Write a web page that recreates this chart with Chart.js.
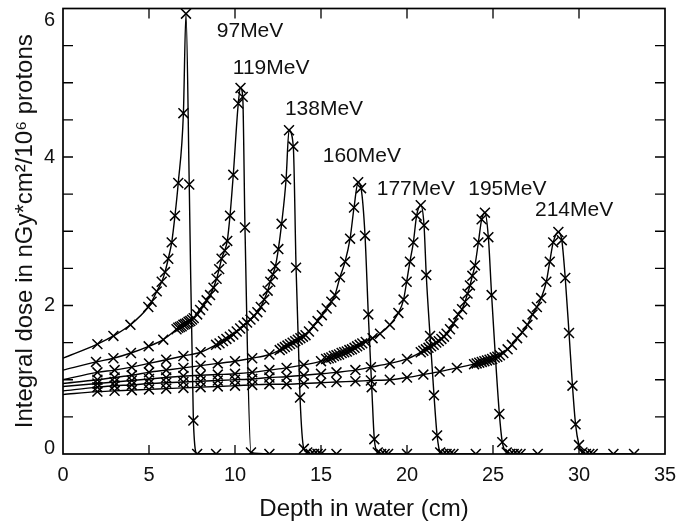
<!DOCTYPE html>
<html>
<head>
<meta charset="utf-8">
<script src="https://cdn.jsdelivr.net/npm/chart.js@4.4.0/dist/chart.umd.min.js"></script>
<style>
  html, body { margin: 0; padding: 0; background: #fff; }
  #wrap { width: 680px; height: 531px; position: relative; }
</style>
</head>
<body>
<div id="wrap"><canvas id="braggChart"></canvas></div>
<script>
// proton beam energies
const energies = ['97MeV', '119MeV', '138MeV', '160MeV', '177MeV', '195MeV', '214MeV'];

// depth in water (cm) and integral dose
const depth97 = [0, 2, 2.93, 3.92, 4.96, 5.15, 5.45, 5.74, 5.93, 6.12, 6.32, 6.51, 6.70, 7.0, 7.15, 7.34, 7.58, 7.8, 8.9];
const dose97 = [1.29, 1.48, 1.59, 1.74, 1.98, 2.05, 2.19, 2.32, 2.45, 2.63, 2.85, 3.21, 3.65, 4.59, 5.93, 3.63, 0.45, 0.0, 0.0];

const depth119 = [0, 1.92, 2.93, 3.95, 4.98, 5.83, 6.6, 6.7, 6.8, 6.9, 7.0, 7.1, 7.2, 7.3, 7.4, 7.5, 7.6, 7.8, 7.97, 8.15, 8.35, 8.55, 8.75, 8.93, 9.08, 9.22, 9.4, 9.55, 9.71, 9.9, 10.19, 10.32, 10.45, 10.58, 10.93, 12.0];
const dose119 = [1.13, 1.24, 1.29, 1.36, 1.45, 1.54, 1.68, 1.70, 1.71, 1.72, 1.74, 1.75, 1.76, 1.78, 1.79, 1.81, 1.83, 1.88, 1.94, 2.00, 2.07, 2.14, 2.24, 2.36, 2.49, 2.63, 2.74, 2.87, 3.21, 3.76, 4.72, 4.93, 4.81, 3.05, 0.02, 0.0];

const depth138 = [0, 2, 3, 4, 5, 6, 7, 8, 8.9, 9.1, 9.3, 9.5, 9.7, 9.9, 10.1, 10.3, 10.5, 10.7, 10.9, 11.1, 11.3, 11.5, 11.7, 11.9, 12.05, 12.2, 12.35, 12.52, 12.71, 12.97, 13.14, 13.39, 13.55, 13.78, 14.0, 14.2, 14.4, 14.6, 14.8, 15.0, 15.9];
const dose138 = [1.00, 1.10, 1.13, 1.17, 1.22, 1.27, 1.32, 1.37, 1.47, 1.49, 1.52, 1.55, 1.58, 1.61, 1.65, 1.69, 1.73, 1.77, 1.81, 1.86, 1.91, 1.98, 2.08, 2.20, 2.32, 2.42, 2.53, 2.76, 3.10, 3.70, 4.36, 4.14, 2.51, 0.76, 0.07, 0.02, 0.0, 0.0, 0.0, 0.0, 0.0];

const depth160 = [0, 2, 3, 4, 5, 6, 7, 8, 9, 10, 11, 12, 12.6, 12.75, 12.9, 13.05, 13.2, 13.35, 13.5, 13.65, 13.8, 13.95, 14.1, 14.3, 14.55, 14.8, 15.05, 15.33, 15.6, 15.81, 16.1, 16.4, 16.69, 16.92, 17.16, 17.33, 17.56, 17.75, 17.95, 18.1, 18.3, 18.5, 18.7, 18.9, 20.0];
const dose160 = [0.95, 1.00, 1.03, 1.06, 1.10, 1.13, 1.16, 1.19, 1.22, 1.25, 1.29, 1.34, 1.40, 1.42, 1.44, 1.46, 1.48, 1.50, 1.52, 1.54, 1.56, 1.58, 1.60, 1.65, 1.72, 1.79, 1.87, 1.96, 2.05, 2.14, 2.38, 2.59, 2.90, 3.32, 3.66, 3.58, 2.94, 1.88, 0.90, 0.20, 0.02, 0.0, 0.0, 0.0, 0.0];

const depth177 = [0, 2, 3, 4, 5, 6, 7, 8, 9, 10, 11, 12, 13, 14, 15, 15.3, 15.45, 15.6, 15.75, 15.9, 16.05, 16.2, 16.35, 16.5, 16.65, 16.8, 16.95, 17.1, 17.25, 17.4, 17.6, 18.0, 18.43, 19.0, 19.5, 19.8, 19.98, 20.17, 20.37, 20.56, 20.8, 20.99, 21.12, 21.34, 21.57, 21.75, 21.93, 22.1, 22.3, 22.5, 22.7, 24.0];
const dose177 = [0.91, 0.95, 0.97, 0.99, 1.01, 1.03, 1.05, 1.06, 1.07, 1.08, 1.10, 1.13, 1.16, 1.20, 1.25, 1.28, 1.29, 1.30, 1.32, 1.33, 1.34, 1.36, 1.37, 1.38, 1.40, 1.41, 1.43, 1.45, 1.47, 1.49, 1.51, 1.56, 1.62, 1.74, 1.90, 2.08, 2.32, 2.59, 2.85, 3.21, 3.35, 3.08, 2.41, 1.59, 0.79, 0.25, 0.02, 0.0, 0.0, 0.0, 0.0, 0.0];

const depth195 = [0, 2, 3, 4, 5, 6, 7, 8, 9, 10, 11, 12, 13, 14, 15, 15.9, 17.0, 17.9, 19.0, 20.0, 20.8, 20.95, 21.1, 21.25, 21.4, 21.55, 21.7, 21.85, 22.0, 22.15, 22.3, 22.5, 22.7, 22.98, 23.2, 23.37, 23.52, 23.66, 23.8, 23.95, 24.15, 24.34, 24.53, 24.73, 24.92, 25.37, 25.54, 25.8, 26.0, 26.2, 26.4, 26.6, 27.6];
const dose195 = [0.85, 0.90, 0.92, 0.93, 0.95, 0.96, 0.97, 0.98, 0.99, 1.00, 1.01, 1.03, 1.04, 1.06, 1.08, 1.10, 1.13, 1.17, 1.22, 1.28, 1.37, 1.39, 1.41, 1.43, 1.45, 1.47, 1.50, 1.52, 1.55, 1.58, 1.62, 1.68, 1.76, 1.88, 1.95, 2.05, 2.16, 2.27, 2.40, 2.54, 2.85, 3.16, 3.25, 2.92, 2.14, 0.54, 0.16, 0.02, 0.0, 0.0, 0.0, 0.0, 0.0];

const depth214 = [0, 2, 3, 4, 5, 6, 7, 8, 9, 10, 11, 12, 13, 14, 15, 15.9, 17.0, 17.9, 19.0, 20.0, 20.95, 21.9, 22.9, 23.9, 24.05, 24.2, 24.35, 24.5, 24.65, 24.8, 24.95, 25.1, 25.25, 25.4, 25.6, 25.85, 26.1, 26.4, 26.7, 27.0, 27.3, 27.55, 27.8, 28.1, 28.3, 28.5, 28.8, 29.0, 29.2, 29.42, 29.62, 29.8, 30.0, 30.2, 30.4, 30.6, 30.8, 32.0, 33.2];
const dose214 = [0.80, 0.84, 0.85, 0.86, 0.87, 0.88, 0.89, 0.90, 0.91, 0.92, 0.93, 0.94, 0.94, 0.95, 0.96, 0.97, 0.98, 0.99, 1.00, 1.03, 1.07, 1.11, 1.16, 1.21, 1.22, 1.23, 1.24, 1.25, 1.26, 1.27, 1.28, 1.30, 1.31, 1.33, 1.36, 1.41, 1.47, 1.56, 1.64, 1.74, 1.88, 1.98, 2.10, 2.32, 2.59, 2.85, 2.99, 2.88, 2.37, 1.63, 0.92, 0.40, 0.12, 0.02, 0.0, 0.0, 0.0, 0.0, 0.0];

const depths = [depth97, depth119, depth138, depth160, depth177, depth195, depth214];
const doses = [dose97, dose119, dose138, dose160, dose177, dose195, dose214];

// tick labels
const xTicks = [0, 5, 10, 15, 20, 25, 30, 35];
const yTicks = [0, 2, 4, 6];

// where each energy label sits (left edge depth, middle dose)
const labelDepth = [8.94, 9.87, 12.9, 15.1, 18.24, 23.56, 27.44];
const labelDose = [5.69, 5.2, 4.65, 4.01, 3.56, 3.56, 3.29];

const FONT = '"Liberation Sans", Arial, sans-serif';

// box round the plot with inward ticks, plus the energy labels
const framePlugin = {
    id: 'frame',
    afterDatasetsDraw(chart) {
        const {ctx, chartArea: a, scales: {x, y}} = chart;
        ctx.save();
        ctx.strokeStyle = '#000';
        ctx.lineWidth = 1.7;
        ctx.strokeRect(a.left, a.top, a.right - a.left, a.bottom - a.top);

        ctx.lineWidth = 1.3;
        ctx.beginPath();
        xTicks.slice(1, -1).forEach(v => {
            const px = x.getPixelForValue(v);
            ctx.moveTo(px, a.bottom); ctx.lineTo(px, a.bottom - 9);
            ctx.moveTo(px, a.top); ctx.lineTo(px, a.top + 10);
        });
        for (let v = 0.5; v < 6; v += 0.5) {
            const py = y.getPixelForValue(v);
            ctx.moveTo(a.left, py); ctx.lineTo(a.left + 10, py);
            ctx.moveTo(a.right, py); ctx.lineTo(a.right - 10, py);
        }
        ctx.stroke();

        ctx.fillStyle = '#111';
        ctx.font = '21px ' + FONT;
        ctx.textAlign = 'left';
        ctx.textBaseline = 'middle';
        energies.forEach((e, i) => {
            ctx.fillText(e, x.getPixelForValue(labelDepth[i]), y.getPixelForValue(labelDose[i]));
        });
        ctx.restore();
    }
};

const datasets = energies.map((name, k) => ({
    label: name,
    data: depths[k].map((d, i) => ({x: d, y: doses[k][i]})),
    borderColor: '#000',
    borderWidth: 1.4,
    pointStyle: 'crossRot',
    pointRadius: depths[k].map((d, i) => i === 0 ? 0 : 7),
    pointHoverRadius: 0,
    pointBorderColor: '#000',
    pointBorderWidth: 1.5,
    cubicInterpolationMode: 'monotone',
    fill: false
}));

new Chart(document.getElementById('braggChart'), {
    type: 'line',
    data: {datasets: datasets},
    plugins: [framePlugin],
    options: {
        responsive: true,
        maintainAspectRatio: false,
        animation: false,
        events: [],
        layout: {padding: {top: 2, right: 15, left: 0, bottom: 0}},
        plugins: {
            legend: {display: false},
            tooltip: {enabled: false}
        },
        scales: {
            x: {
                type: 'linear',
                min: 0,
                max: 35,
                afterBuildTicks: s => { s.ticks = xTicks.map(v => ({value: v})); },
                afterFit: s => { s.height = 77; s.paddingLeft = 0; s.paddingRight = 0; },
                grid: {display: false, drawTicks: false},
                border: {display: false},
                ticks: {
                    font: {family: FONT, size: 20},
                    color: '#111',
                    padding: 9,
                    maxRotation: 0
                },
                title: {
                    display: true,
                    text: 'Depth in water (cm)',
                    color: '#111',
                    font: {family: FONT, size: 24},
                    padding: {top: 0, bottom: 7}
                }
            },
            y: {
                type: 'linear',
                min: 0,
                max: 6,
                afterBuildTicks: s => { s.ticks = yTicks.map(v => ({value: v})); },
                afterFit: s => { s.width = 63; s.paddingTop = 0; s.paddingBottom = 0; },
                grid: {display: false, drawTicks: false},
                border: {display: false},
                ticks: {
                    color: '#111',
                    padding: 8,
                    font: c => ({family: FONT, size: 20, lineHeight: (c.tick && c.tick.value === 0) ? 0.6 : 1.2}),
                    // nudge the end labels like the original
                    callback: v => v === 6 ? ['', '6'] : v === 0 ? ['0', ''] : String(v)
                },
                title: {
                    display: true,
                    text: 'Integral dose in nGy*cm²/10⁶ protons',
                    color: '#111',
                    font: {family: FONT, size: 24},
                    padding: {top: 11, bottom: 0}
                }
            }
        }
    }
});
</script>
</body>
</html>
